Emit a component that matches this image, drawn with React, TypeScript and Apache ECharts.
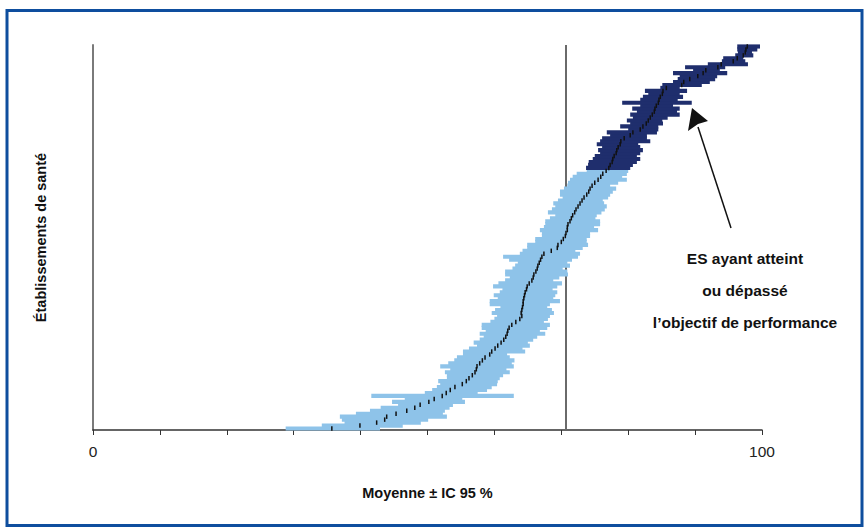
import React, { useEffect, useRef } from "react";
import * as echarts from "echarts";

// Établissements sous l'objectif (ordre croissant de la moyenne)
const belowLow = [
  28.8, 34.2, 37.6, 37.2, 36.9, 39.3, 41.4, 43.0, 45.6, 44.7, 46.6, 41.6, 49.6, 50.7, 51.4, 51.9,
  51.6, 52.9, 52.9, 52.6, 53.4, 51.9, 53.1, 54.0, 54.4, 55.3, 55.3, 56.2, 57.4, 56.9, 57.8, 58.4,
  57.8, 58.7, 58.1, 58.1, 59.4, 60.0, 60.4, 59.6, 60.1, 60.9, 59.3, 59.3, 60.5, 59.9, 60.8, 61.2,
  59.8, 60.6, 61.6, 62.3, 61.6, 61.6, 62.7, 63.1, 63.5, 62.2, 61.3, 63.8, 64.2, 64.9, 64.9, 66.1,
  66.1, 67.1, 67.1, 66.8, 67.4, 67.6, 67.6, 68.3, 69.1, 68.0, 68.6, 69.1, 68.8, 69.5, 70.2, 69.8,
  69.8, 70.4, 70.9, 71.0, 71.3, 71.7, 72.3, 73.8,
];
const belowMean = [
  35.7, 39.9, 42.4, 43.6, 43.9, 45.3, 46.9, 48.1, 48.9, 50.2, 51.0, 52.2, 52.8, 53.4, 54.1, 55.2,
  55.8, 56.2, 56.7, 57.1, 57.3, 57.4, 57.8, 58.2, 58.6, 59.3, 59.6, 60.1, 60.5, 61.0, 61.4, 61.7,
  61.9, 62.0, 62.2, 62.6, 63.2, 63.8, 64.1, 64.0, 64.1, 64.2, 64.3, 64.3, 64.4, 64.5, 64.6, 64.8,
  64.9, 65.2, 65.6, 65.8, 65.9, 66.2, 66.4, 66.5, 66.7, 66.9, 67.1, 67.4, 68.5, 69.4, 69.5, 70.0,
  70.3, 70.6, 70.7, 70.9, 70.9, 71.0, 71.3, 71.5, 71.7, 72.0, 72.2, 72.5, 72.8, 73.1, 73.4, 73.8,
  74.1, 74.3, 74.6, 75.0, 75.5, 75.9, 76.2, 76.7,
];
const belowHigh = [
  42.9, 46.3, 49.0, 50.1, 52.9, 52.3, 52.6, 53.3, 53.8, 55.6, 55.2, 62.9, 57.5, 58.9, 59.6, 60.4,
  60.5, 60.8, 61.3, 62.3, 61.8, 62.9, 62.6, 63.0, 62.3, 61.9, 64.6, 64.2, 65.3, 65.0, 65.8, 66.4,
  67.6, 66.8, 67.9, 68.3, 67.4, 68.0, 68.3, 68.9, 68.6, 67.9, 68.3, 69.8, 68.8, 69.1, 69.4, 68.7,
  69.4, 70.1, 68.8, 69.7, 71.0, 70.9, 70.2, 71.3, 70.9, 71.6, 72.5, 72.8, 72.1, 73.2, 74.0, 73.8,
  73.8, 74.3, 74.3, 75.5, 74.9, 75.8, 75.8, 75.1, 75.3, 76.0, 76.5, 76.8, 76.4, 76.2, 77.0, 77.3,
  77.7, 78.2, 77.3, 78.5, 79.8, 79.1, 79.8, 80.0,
];

// Établissements ayant atteint ou dépassé l'objectif
const reachedLow = [
  73.7, 74.0, 74.1, 74.7, 75.0, 75.8, 75.5, 76.1, 75.3, 75.8, 76.1, 77.3, 76.8, 80.0, 78.8, 80.3,
  79.8, 80.7, 80.3, 81.3, 80.6, 81.8, 79.1, 81.8, 82.2, 83.0, 82.5, 84.8, 85.1, 86.7, 87.4, 87.7,
  86.7, 89.7, 88.5, 91.9, 94.0, 94.2, 96.0, 96.4, 96.3, 96.3,
];
const reachedMean = [
  77.1, 77.3, 77.6, 77.7, 77.9, 78.2, 78.3, 78.5, 78.8, 78.9, 79.4, 80.3, 80.7, 81.8, 82.2, 82.7,
  83.0, 83.3, 83.6, 83.9, 84.0, 84.2, 84.5, 84.6, 84.8, 85.1, 85.2, 85.7, 88.0, 88.3, 89.2, 90.4,
  91.2, 91.6, 93.4, 93.9, 95.7, 96.3, 97.2, 97.5, 97.6, 97.8,
];
const reachedHigh = [
  80.3, 80.7, 81.3, 81.8, 81.3, 81.8, 82.2, 81.8, 81.5, 83.3, 82.8, 82.8, 84.3, 84.5, 84.5, 85.2,
  85.1, 85.9, 87.7, 87.3, 87.7, 86.7, 89.5, 87.4, 88.2, 87.7, 88.8, 87.7, 91.0, 92.2, 93.0, 93.3,
  94.8, 93.7, 94.5, 97.9, 97.5, 97.2, 98.7, 98.5, 99.3, 99.7,
];

const objective = 70.7;
const xTicks = [0, 100];
const xName = "Moyenne ± IC 95 %";
const yName = "Établissements de santé";
const noteLines = ["ES ayant atteint", "ou dépassé", "l’objectif de performance"];

const LIGHT = "#8EC3E9";
const DARK = "#1F2E6D";
const FONT = "'Liberation Sans', Arial, sans-serif";

export default function App() {
  const ref = useRef<HTMLDivElement>(null);

  useEffect(() => {
    if (!ref.current) return;
    const chart = echarts.init(ref.current, null, { renderer: "svg" });

    const rows: number[][] = [];
    belowLow.forEach((l, i) => rows.push([rows.length, l, belowMean[i], belowHigh[i], 0]));
    reachedLow.forEach((l, i) => rows.push([rows.length, l, reachedMean[i], reachedHigh[i], 1]));
    const cats = rows.map((r) => String(r[0] + 1));

    const barItem = (params: any, api: any) => {
      const idx = api.value(0);
      const pL = api.coord([api.value(1), idx]);
      const pH = api.coord([api.value(3), idx]);
      const h = api.size([0, 1])[1];
      return {
        type: "rect",
        shape: { x: pL[0], y: pL[1] - h / 2 - 0.6, width: pH[0] - pL[0], height: h + 1.2 },
        style: { fill: api.value(4) === 1 ? DARK : LIGHT },
      };
    };
    const meanItem = (params: any, api: any) => {
      const idx = api.value(0);
      const pM = api.coord([api.value(2), idx]);
      const h = api.size([0, 1])[1];
      return {
        type: "rect",
        shape: { x: pM[0] - 0.75, y: pM[1] - h * 0.75, width: 1.5, height: h * 1.5 },
        style: { fill: "#111111" },
      };
    };

    // arrow geometry (annotation)
    const tip = [692, 108];
    const tail = [731, 228];

    chart.setOption({
      animation: false,
      backgroundColor: "#ffffff",
      textStyle: { fontFamily: FONT },
      grid: { left: 93, right: 104, top: 45, bottom: 99 },
      xAxis: {
        type: "value",
        min: 0,
        max: 100,
        interval: 10,
        splitLine: { show: false },
        axisLine: { show: true, lineStyle: { color: "#333333", width: 1.5 } },
        axisTick: { show: true, inside: false, length: 5, lineStyle: { color: "#333333", width: 1 } },
        axisLabel: {
          margin: 13,
          fontSize: 15.5,
          color: "#222222",
          fontFamily: FONT,
          formatter: (v: number) => (xTicks.includes(v) ? String(v) : ""),
        },
        name: xName,
        nameLocation: "middle",
        nameGap: 55,
        nameTextStyle: { fontSize: 14.5, fontWeight: "bold", color: "#111111", fontFamily: FONT },
      },
      yAxis: {
        type: "category",
        data: cats,
        axisLine: { show: true, lineStyle: { color: "#7a7a7a", width: 2 } },
        axisTick: { show: false },
        axisLabel: { show: false },
        splitLine: { show: false },
        name: yName,
        nameLocation: "middle",
        nameGap: 45,
        nameRotate: 90,
        nameTextStyle: { fontSize: 14.5, fontWeight: "bold", color: "#111111", fontFamily: FONT },
      },
      series: [
        {
          type: "custom",
          renderItem: barItem,
          data: rows,
          encode: { x: [1, 2, 3], y: 0 },
          z: 2,
          markLine: {
            silent: true,
            symbol: ["none", "none"],
            label: { show: false },
            lineStyle: { color: "#6a6a6a", width: 2, type: "solid" },
            data: [{ xAxis: objective }],
            z: 1,
          },
        },
        {
          type: "custom",
          renderItem: meanItem,
          data: rows,
          encode: { x: [1, 2, 3], y: 0 },
          z: 3,
        },
      ],
      graphic: [
        {
          type: "rect",
          shape: { x: 7, y: 10.5, width: 855, height: 515 },
          style: { fill: "none", stroke: "#0E4E9E", lineWidth: 3 },
          z: 100,
        },
        {
          type: "line",
          shape: { x1: tail[0], y1: tail[1], x2: 698, y2: 127 },
          style: { stroke: "#111111", lineWidth: 1.5 },
          z: 100,
        },
        {
          type: "polygon",
          shape: { points: [tip, [688, 131], [698, 124], [708, 121]] },
          style: { fill: "#111111" },
          z: 100,
        },
        ...noteLines.map((t, i) => ({
          type: "text",
          x: 745,
          y: 258 + i * 32,
          style: {
            text: t,
            fill: "#111111",
            font: `bold 15.5px ${FONT}`,
            textAlign: "center",
            textVerticalAlign: "middle",
          },
          z: 100,
        })),
      ],
    });

    return () => chart.dispose();
  }, []);

  return (
    <div
      ref={ref}
      style={{ position: "fixed", left: 0, top: 0, width: 866, height: 529, background: "#fff" }}
    />
  );
}
